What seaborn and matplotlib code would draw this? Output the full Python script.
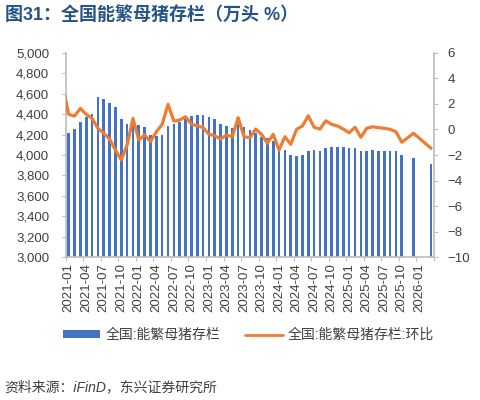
import numpy as np
import pandas as pd
import matplotlib
matplotlib.use('Agg')
import matplotlib.pyplot as plt
import seaborn as sns
from matplotlib.patches import Patch
from matplotlib.lines import Line2D
from matplotlib.ticker import FuncFormatter

# monthly categories, 2020-12 is only there so the line enters from the left edge
months = pd.date_range('2020-12-01', '2026-03-01', freq='MS').strftime('%Y-%m').tolist()

# 能繁母猪存栏 (万头), 2020-12 .. 2026-03
sows = [np.nan,
        4215, 4254, 4323, 4375, 4405, 4572, 4545, 4508, 4466, 4352,
        4304, 4296, 4296, 4275, 4193, 4185, 4196, 4282, 4306, 4325,
        4350, 4385, 4396, 4396, 4372, 4350, 4308, 4288, 4262, 4300,
        4275, 4248, 4215, 4175, 4162, 4140, 4067, 4047, 3998, 3988,
        4001, 4040, 4047, 4040, 4066, 4076, 4083, 4083, 4066, 4070,
        4043, 4040, 4046, 4043, 4042, 4040, 4036, 3996, np.nan, 3970,
        np.nan, np.nan, 3912]

# 环比 (%)
mom = [3.4,
       1.18, 1.05, 1.65, 1.18, 0.87, 0.09, -0.30, -0.75, -1.61, -2.39,
       -1.22, 0.87, -0.83, -0.43, -0.96, -0.18, 0.40, 1.97, 0.66, 0.74,
       1.00, 0.40, 0.29, 0.14, -0.38, -0.49, -0.75, -0.43, -0.57, 0.92,
       -0.57, -0.65, 0.03, -0.38, -1.08, -0.38, -1.61, -0.57, -1.16, 0.01,
       0.27, 1.07, 0.17, 0.03, 0.68, 0.40, 0.27, 0.03, -0.26, 0.17,
       -0.61, 0.09, 0.21, 0.14, 0.09, 0.01, -0.18, -1.00, np.nan, -0.30,
       np.nan, np.nan, -1.47]

bar_label = '全国:能繁母猪存栏'
line_label = '全国:能繁母猪存栏:环比'
title = '图31：全国能繁母猪存栏（万头 %）'
source = '资料来源：iFinD，东兴证券研究所'

df = pd.DataFrame({'month': months, 'sows': sows, 'mom': mom})
df['pos'] = np.arange(len(df)) - 1
shown = months[1:]

sns.set_theme(style='white')
plt.rcParams['font.family'] = ['Liberation Sans', 'Noto Sans CJK SC']

blue = '#4472C4'
orange = '#ED7D31'
grey = '#bfbfbf'
txt = '#404040'

fig = plt.figure(figsize=(4.8, 4.0), dpi=100)
ax = fig.add_axes([0.137, 0.357, 0.767, 0.511])

sns.barplot(data=df.dropna(subset=['sows']), x='month', y='sows', order=shown,
            color=blue, saturation=1, width=0.45, linewidth=0, ax=ax)

ax2 = ax.twinx()
sns.lineplot(data=df.dropna(subset=['mom']), x='pos', y='mom', color=orange,
             linewidth=2.3, ax=ax2, legend=False)

ax.set_xlim(-0.5, len(shown) - 0.5)
ax.set_ylim(3000, 5000)
ax.set_yticks(np.arange(3000, 5001, 200))
ax.yaxis.set_major_formatter(FuncFormatter(lambda v, p: f'{v:,.0f}'))
ax2.set_ylim(-10, 6)
ax2.set_yticks(np.arange(-10, 7, 2))

ax.set_xticks(np.arange(0, len(shown), 3))
ax.set_xticklabels(shown[::3], rotation=90)
ax.set_xticks(np.arange(-0.5, len(shown), 3), minor=True)

for a in (ax, ax2):
    a.set_xlabel('')
    a.set_ylabel('')
    a.spines['top'].set_visible(False)
ax.spines['right'].set_visible(False)
ax2.spines['left'].set_visible(False)
ax2.spines['bottom'].set_visible(False)
for s in ('left', 'bottom'):
    ax.spines[s].set_color(grey)
ax2.spines['right'].set_color(grey)

ax.tick_params(axis='y', left=True, length=3, width=0.8, color=grey, pad=9,
               labelsize=9.5, labelcolor=txt)
ax2.tick_params(axis='y', right=True, length=3, width=0.8, color=grey, pad=7,
                labelsize=9.5, labelcolor=txt)
ax.tick_params(axis='x', which='major', bottom=True, length=0, pad=4.5,
               labelsize=9.5, labelcolor=txt)
ax.tick_params(axis='x', which='minor', bottom=True, length=3, width=0.8, color=grey)

fig.text(0.01, 0.9625, title, fontsize=13, fontweight='bold', color='#24548a', va='center')

handles = [Patch(facecolor=blue, edgecolor='none'), Line2D([], [], color=orange, lw=2)]
fig.legend(handles, [bar_label, line_label], loc='center left',
           bbox_to_anchor=(0.131, 0.1625), ncol=2, frameon=False, fontsize=10,
           handlelength=2.7, handleheight=0.43, handletextpad=0.36,
           columnspacing=1.8, borderpad=0, borderaxespad=0, labelcolor=txt)

fig.text(0.01, 0.031, source, fontsize=10, style='italic', color=txt, va='center')

fig.savefig('out.png', dpi=100)
